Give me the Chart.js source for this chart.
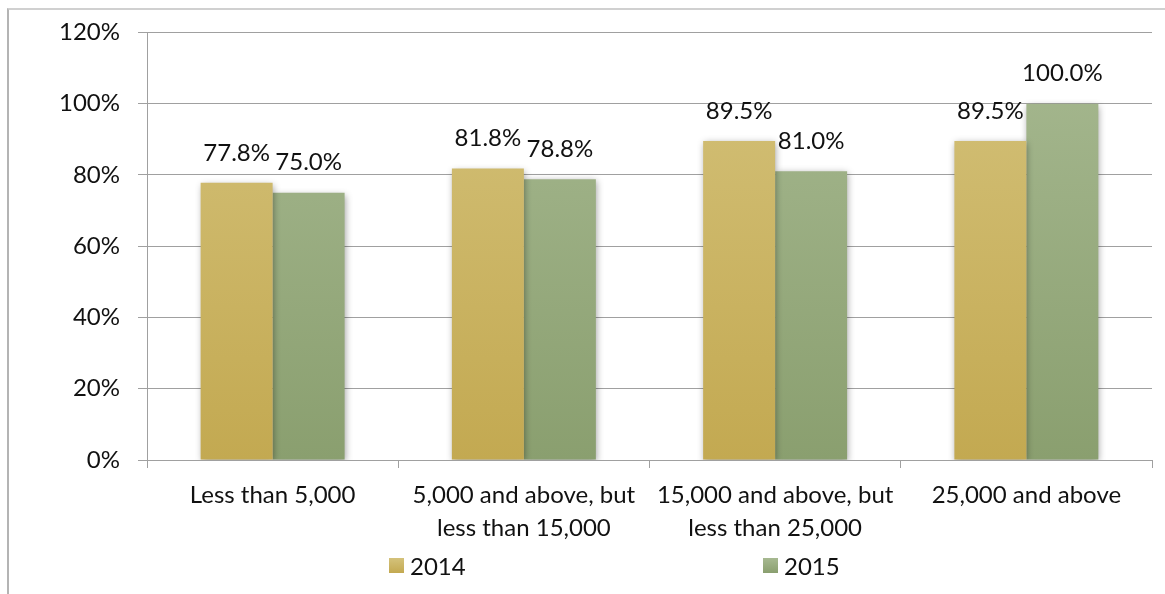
<!DOCTYPE html>
<html>
<head>
<meta charset="utf-8">
<script src="https://cdn.jsdelivr.net/npm/chart.js@4.4.1/dist/chart.umd.min.js"></script>
<style>
  html, body { margin: 0; padding: 0; background: #fff; overflow: hidden; }
  #frame {
    position: absolute; left: 7px; top: 8px; width: 1200px; height: 640px;
    border-left: 2px solid #b4b4b4; border-top: 2px solid #d0d0d0;
  }
  #wrap { position: absolute; left: 0; top: 0; width: 1165px; height: 594px; }
  .legend-item {
    position: absolute; top: 553px; height: 24px; display: flex; align-items: center;
    font-family: Lato, sans-serif; font-size: 24px; color: #111;
  }
  .legend-item .swatch { width: 15px; height: 15px; margin-right: 6px; }
</style>
</head>
<body>
<div id="frame"></div>
<div id="wrap">
  <canvas id="myChart" width="1165" height="594"></canvas>
</div>
<div class="legend-item" id="leg0" style="left:389px"><span class="swatch"></span><span class="txt"></span></div>
<div class="legend-item" id="leg1" style="left:763px"><span class="swatch"></span><span class="txt"></span></div>
<script>
// Vars
const categories = [
  'Less than 5,000',
  ['5,000 and above, but', 'less than 15,000'],
  ['15,000 and above, but', 'less than 25,000'],
  '25,000 and above'
];
const years = ['2014', '2015'];
const values2014 = [77.8, 81.8, 89.5, 89.5];
const values2015 = [75.0, 78.8, 81.0, 100.0];
const yTicks = [0, 20, 40, 60, 80, 100, 120];

const FONT = 'Lato, sans-serif';

// top / bottom colours of each bar gradient
const goldTop = '#d4c27b', goldBottom = '#c3a951';
const greenTop = '#a7b991', greenBottom = '#8a9f6f';

function barGradient(top, bottom) {
  return function (context) {
    const area = context.chart.chartArea;
    if (!area) return bottom;
    const g = context.chart.ctx.createLinearGradient(0, area.top, 0, area.bottom);
    g.addColorStop(0, top);
    g.addColorStop(1, bottom);
    return g;
  };
}

// soft drop shadow behind the bars
const barShadow = {
  id: 'barShadow',
  beforeDatasetsDraw(chart) {
    const c = chart.ctx;
    c.save();
    c.shadowColor = 'rgba(0,0,0,0.38)';
    c.shadowBlur = 7;
    c.shadowOffsetX = 1;
    c.shadowOffsetY = 2;
  },
  afterDatasetsDraw(chart) {
    chart.ctx.restore();
  }
};

// value labels above every bar
const valueLabels = {
  id: 'valueLabels',
  afterDraw(chart) {
    const c = chart.ctx;
    c.save();
    c.font = '24px ' + FONT;
    c.fillStyle = '#111';
    c.textAlign = 'center';
    c.textBaseline = 'middle';
    chart.data.datasets.forEach((ds, i) => {
      chart.getDatasetMeta(i).data.forEach((bar, j) => {
        c.fillText(ds.data[j].toFixed(1) + '%', bar.x, bar.y - 30);
      });
    });
    c.restore();
  }
};

const ctx = document.getElementById('myChart');

const chart = new Chart(ctx, {
  type: 'bar',
  data: {
    labels: categories,
    datasets: [{
      label: years[0],
      data: values2014,
      backgroundColor: barGradient(goldTop, goldBottom),
      borderWidth: 0
    },
    {
      label: years[1],
      data: values2015,
      backgroundColor: barGradient(greenTop, greenBottom),
      borderWidth: 0
    }]
  },
  options: {
    responsive: false,
    animation: false,
    layout: { padding: { top: 24, right: 13, bottom: 0, left: 0 } },
    plugins: {
      legend: { display: false },
      tooltip: { enabled: false }
    },
    datasets: {
      bar: { categoryPercentage: 0.573, barPercentage: 1 }
    },
    scales: {
      x: {
        afterFit(scale) { scale.height = 134; },
        grid: {
          offset: true,
          drawOnChartArea: false,
          drawTicks: true,
          tickLength: 8,
          color: '#a0a0a0'
        },
        border: { color: '#a0a0a0', width: 1 },
        ticks: {
          color: '#111',
          padding: 10,
          maxRotation: 0,
          autoSkip: false,
          font: { family: FONT, size: 24, lineHeight: 1.4 }
        }
      },
      y: {
        min: 0,
        max: 120,
        afterFit(scale) { scale.width = 147; },
        afterBuildTicks(scale) { scale.ticks = yTicks.map(v => ({ value: v })); },
        grid: {
          color: '#a0a0a0',
          tickLength: 9
        },
        border: { color: '#a0a0a0', width: 1 },
        ticks: {
          color: '#111',
          padding: 18,
          font: { family: FONT, size: 24 },
          callback: v => v + '%'
        }
      }
    }
  },
  plugins: [barShadow, valueLabels]
});

// legend under the plot, built from the datasets
[[goldTop, goldBottom], [greenTop, greenBottom]].forEach((cols, i) => {
  const el = document.getElementById('leg' + i);
  el.querySelector('.swatch').style.background =
    'linear-gradient(' + cols[0] + ', ' + cols[1] + ')';
  el.querySelector('.txt').textContent = chart.data.datasets[i].label;
});
</script>
</body>
</html>
